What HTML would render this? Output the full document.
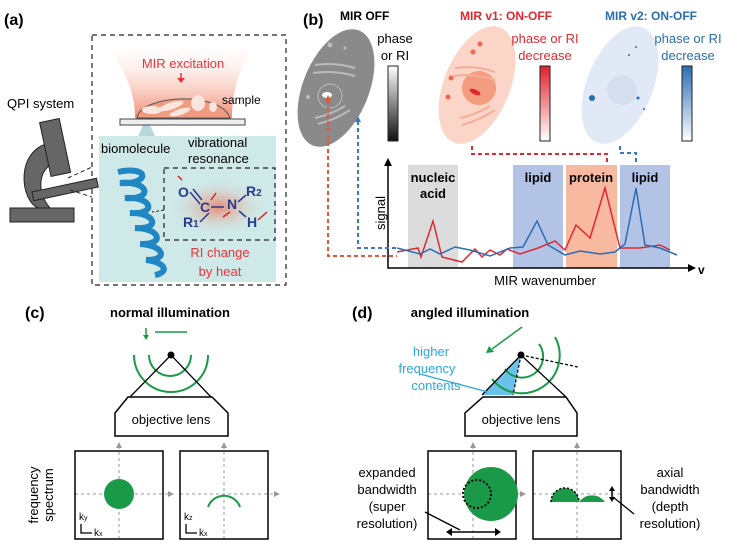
<!DOCTYPE html>
<html><head><meta charset="utf-8"><style>
html,body{margin:0;padding:0;background:#fff}
svg{display:block;font-family:"Liberation Sans",Arial,sans-serif}
</style></head><body>
<svg width="730" height="547" viewBox="0 0 730 547">
<defs>
<linearGradient id="funnel" x1="0" y1="0" x2="0" y2="1"><stop offset="0" stop-color="#fff" stop-opacity="0"/><stop offset="1" stop-color="#f08a70"/></linearGradient>
<radialGradient id="glow"><stop offset="0" stop-color="#e98a70"/><stop offset="1" stop-color="#cfe8e8" stop-opacity="0"/></radialGradient>
<linearGradient id="gbar" x1="0" y1="0" x2="0" y2="1"><stop offset="0" stop-color="#fff"/><stop offset="1" stop-color="#111"/></linearGradient>
<linearGradient id="rbar" x1="0" y1="0" x2="0" y2="1"><stop offset="0" stop-color="#e2202c"/><stop offset="1" stop-color="#fff"/></linearGradient>
<linearGradient id="bbar" x1="0" y1="0" x2="0" y2="1"><stop offset="0" stop-color="#2a6db5"/><stop offset="1" stop-color="#fff"/></linearGradient>
</defs>
<!-- (a) -->
<text x="4" y="25" font-size="16" font-weight="bold">(a)</text>
<path d="M100,40 C130,70 135,100 135,118 L232,118 C232,100 235,70 258,40 Z" fill="url(#funnel)"/>
<rect x="99" y="136" width="177" height="146" fill="#cfe8e8"/>
<polygon points="143,125 150,125 155,136 138,136" fill="#b7d9dc"/>
<rect x="92" y="35" width="194" height="250" fill="none" stroke="#222" stroke-dasharray="5,4" stroke-width="1.2"/>
<text x="183" y="68" font-size="13" fill="#e8343c" text-anchor="middle">MIR excitation</text>
<path d="M181,73 V80" stroke="#e8343c" stroke-width="1.5"/><path d="M177,78 L181,83 L185,78Z" fill="#e8343c"/>
<path d="M137,118 C140,95 220,90 230,118 Z" fill="#f19b80" stroke="#555"/>
<ellipse cx="152" cy="110" rx="10" ry="4" fill="#fbe5dc"/>
<ellipse cx="171" cy="106" rx="13" ry="3.5" fill="#fbe5dc" transform="rotate(-18 171 106)"/>
<ellipse cx="180" cy="112" rx="11" ry="3" fill="#fbe5dc" transform="rotate(-18 180 112)"/>
<ellipse cx="198" cy="103" rx="7" ry="8" fill="#fbe5dc"/>
<ellipse cx="213" cy="107" rx="4" ry="5" fill="#fbe5dc"/>
<rect x="120" y="119" width="125" height="6" fill="#eee" stroke="#444"/>
<text x="222" y="104" font-size="12">sample</text>
<text x="7" y="108" font-size="13">QPI system</text>
<rect x="10" y="208" width="64" height="14" fill="#666" stroke="#222"/>
<path d="M50,143 C15,150 20,200 38,208 L50,208 C36,192 38,168 56,162 Z" fill="#666" stroke="#222"/>
<rect x="45" y="120" width="20" height="55" fill="#666" stroke="#222" transform="rotate(-12 55 147)"/>
<rect x="32" y="185" width="66" height="9" fill="#666" stroke="#222" transform="rotate(-12 65 189)"/>
<path d="M68,178 L92,167 M70,190 L92,197" stroke="#222" stroke-dasharray="4,3"/>
<text x="101" y="153" font-size="13">biomolecule</text>
<text x="188" y="147" font-size="13">vibrational</text>
<text x="188" y="163" font-size="13">resonance</text>
<g fill="none" stroke="#2187c4" stroke-width="6">
<path d="M118,172 C150,165 150,185 120,183 C148,180 155,200 125,198 C152,196 158,215 130,213 C155,212 162,230 135,228 C160,228 166,245 140,244 C163,245 170,260 146,260 C165,262 170,272 155,275"/>
</g>
<ellipse cx="218" cy="207" rx="48" ry="28" fill="url(#glow)"/>
<rect x="164" y="168" width="111" height="72" fill="none" stroke="#222" stroke-dasharray="5,4" stroke-width="1.2"/>
<path d="M164,210 L152,212" stroke="#222" stroke-dasharray="3,2"/>
<g font-size="14" font-weight="bold" fill="#283c8c">
<text x="178" y="197">O</text><text x="200" y="212">C</text><text x="227" y="209">N</text>
<text x="246" y="196">R<tspan font-size="10">2</tspan></text><text x="183" y="227">R<tspan font-size="10">1</tspan></text><text x="247" y="227">H</text>
</g>
<path d="M190,192 L200,204 M193,189 L202,200 M211,207 L224,207 M209,213 L200,222 M238,202 L246,195 M239,211 L246,217" stroke="#283c8c" stroke-width="1.5"/>
<path d="M182,180 L178,176 M211,200 L216,193 M230,212 L223,217 M258,220 L267,212" stroke="#e02020" stroke-width="1.5"/>
<text x="220" y="257" font-size="13" fill="#e8343c" text-anchor="middle">RI change</text>
<text x="220" y="276" font-size="13" fill="#e8343c" text-anchor="middle">by heat</text>
<!-- (b) -->
<text x="303" y="25" font-size="16" font-weight="bold">(b)</text>
<text x="340" y="20" font-size="12" font-weight="bold">MIR OFF</text>
<text x="460" y="20" font-size="12" font-weight="bold" fill="#e02830">MIR v1: ON-OFF</text>
<text x="605" y="20" font-size="12" font-weight="bold" fill="#2a6db5">MIR v2: ON-OFF</text>
<ellipse cx="336" cy="88" rx="33" ry="62" transform="rotate(22 336 88)" fill="#8a8a8a"/>
<g stroke="#bbb" stroke-width="2" fill="none"><path d="M315,65 Q335,62 355,68 M313,73 Q335,70 355,76 M318,124 Q335,120 350,110 M315,118 Q330,115 345,106"/><circle cx="330" cy="96" r="12" stroke-width="1"/></g>
<ellipse cx="327" cy="95" rx="5" ry="3" fill="#fff"/>
<circle cx="330" cy="45" r="2.5" fill="#bbb"/><circle cx="308" cy="97" r="2" fill="#bbb"/><circle cx="345" cy="48" r="1.5" fill="#bbb"/>
<text x="395" y="43" font-size="13" text-anchor="middle">phase</text><text x="395" y="60" font-size="13" text-anchor="middle">or RI</text>
<rect x="388" y="66" width="10" height="75" fill="url(#gbar)" stroke="#222"/>
<ellipse cx="477" cy="85" rx="33" ry="62" transform="rotate(22 477 85)" fill="#fbd5c8"/>
<circle cx="479" cy="88" r="17" fill="#f49c80"/><ellipse cx="475" cy="92" rx="6" ry="2.5" fill="#e02830" transform="rotate(25 475 92)"/>
<g stroke="#f5ad98" stroke-width="2" fill="none"><path d="M455,68 Q475,65 495,72 M453,76 Q475,73 495,80 M462,125 Q480,120 495,110 M460,118 Q475,115 490,106"/></g>
<circle cx="480" cy="44" r="2.5" fill="#ec6a55"/><circle cx="473" cy="52" r="2.5" fill="#ec6a55"/><circle cx="451" cy="78" r="2.5" fill="#ec6a55"/><circle cx="448" cy="97" r="2.5" fill="#ec6a55"/>
<text x="545" y="43" font-size="13" fill="#e02830" text-anchor="middle">phase or RI</text><text x="545" y="60" font-size="13" fill="#e02830" text-anchor="middle">decrease</text>
<rect x="540" y="66" width="10" height="75" fill="url(#rbar)" stroke="#222"/>
<ellipse cx="620" cy="85" rx="33" ry="62" transform="rotate(22 620 85)" fill="#e2e9f6"/>
<circle cx="622" cy="90" r="15" fill="#d5deef"/>
<circle cx="592" cy="98" r="3" fill="#2a6db5"/><circle cx="638" cy="98" r="1.5" fill="#2a6db5"/><circle cx="629" cy="55" r="1" fill="#2a6db5"/><circle cx="636" cy="47" r="1" fill="#2a6db5"/><circle cx="644" cy="109" r="1" fill="#2a6db5"/>
<text x="688" y="43" font-size="13" fill="#2a6db5" text-anchor="middle">phase or RI</text><text x="688" y="60" font-size="13" fill="#2a6db5" text-anchor="middle">decrease</text>
<rect x="682" y="66" width="10" height="75" fill="url(#bbar)" stroke="#222"/>
<rect x="408" y="165" width="50" height="103" fill="#dcdcdc"/>
<rect x="513" y="165" width="50" height="103" fill="#b3c3e6"/>
<rect x="566" y="165" width="51" height="103" fill="#f7b9a0"/>
<rect x="620" y="165" width="50" height="103" fill="#b3c3e6"/>
<g font-size="13" font-weight="bold" text-anchor="middle"><text x="433" y="182">nucleic</text><text x="433" y="198">acid</text><text x="538" y="182">lipid</text><text x="591" y="182">protein</text><text x="645" y="182">lipid</text></g>
<polyline fill="none" stroke="#e02830" stroke-width="1.5" points="397,252 418,248 421,257 433,221 442,257 462,262 475,249 482,257 490,250 500,255 507,249 520,254 538,248 555,241 565,250 576,225 590,238 605,188 620,248 640,248 660,245 670,250"/>
<polyline fill="none" stroke="#2a6db5" stroke-width="1.5" points="397,248 420,254 430,249 440,254 455,247 470,250 490,256 510,248 523,247 537,221 548,245 565,255 580,251 600,254 615,252 625,244 636,188 645,245 660,248 677,255"/>
<path d="M388,162 V268 H692" fill="none" stroke="#000" stroke-width="1.5"/>
<path d="M384,166 L388,158 L392,166Z M688,264 L696,268 L688,272Z"/>
<text x="698" y="274" font-size="12" font-weight="bold">v</text>
<text x="0" y="0" font-size="13" transform="translate(385,230) rotate(-90)">signal</text>
<text x="545" y="285" font-size="13" text-anchor="middle">MIR wavenumber</text>
<g fill="none" stroke-width="2" stroke-dasharray="4,3">
<path d="M328,100 V256 H397" stroke="#e5553a"/>
<path d="M358,121 V248 H397" stroke="#3a78c0"/>
<path d="M472,146 V154 H607 V165" stroke="#e02830"/>
<path d="M620,146 V153 H636 V165" stroke="#3a78c0"/>
</g>
<path d="M325,101 L328,95 L331,101Z" fill="#e5553a"/><path d="M355,122 L358,116 L361,122Z" fill="#3a78c0"/>
<!-- (c) -->
<text x="25" y="318" font-size="16" font-weight="bold">(c)</text>
<text x="170" y="317" font-size="13" font-weight="bold" text-anchor="middle">normal illumination</text>
<path d="M146,328 V336" stroke="#1a9a48" stroke-width="1.5"/><path d="M143,335 L146,340 L149,335Z" fill="#1a9a48"/>
<path d="M155,332 H187" stroke="#1a9a48" stroke-width="1.5"/>
<g fill="none" stroke="#1a9a48" stroke-width="2"><path d="M149,355 A21,21 0 0 0 191,355"/><path d="M134,355 A37,37 0 0 0 208,355"/></g>
<path d="M130,397 L171,355 L211,397" fill="none" stroke="#000" stroke-width="1.3"/>
<circle cx="171" cy="355" r="3.5"/>
<polygon points="128,397 212,397 228,413 228,436 115,436 115,413" fill="#fff" stroke="#000" stroke-width="1.5"/>
<text x="171" y="424" font-size="13" text-anchor="middle">objective lens</text>
<g fill="none" stroke="#999" stroke-dasharray="3,3"><path d="M119,539 V446 M75,494 H168 M224,539 V446 M180,494 H274"/></g>
<path d="M116,448 L119,442 L122,448Z M221,448 L224,442 L227,448Z M168,491 L174,494 L168,497Z M274,491 L280,494 L274,497Z" fill="#999"/>
<rect x="75" y="451" width="88" height="88" fill="none" stroke="#000" stroke-width="1.5"/>
<rect x="180" y="451" width="88" height="88" fill="none" stroke="#000" stroke-width="1.5"/>
<circle cx="119" cy="494" r="15" fill="#1a9a48"/>
<path d="M208,507 A17,17 0 0 1 240,507" fill="none" stroke="#1a9a48" stroke-width="2"/>
<text x="0" y="0" font-size="13" text-anchor="middle" transform="translate(38,495) rotate(-90)">frequency</text>
<text x="0" y="0" font-size="13" text-anchor="middle" transform="translate(53,495) rotate(-90)">spectrum</text>
<g font-size="10"><text x="79" y="520">k<tspan font-size="7">y</tspan></text><text x="94" y="536">k<tspan font-size="7">x</tspan></text>
<text x="184" y="520">k<tspan font-size="7">z</tspan></text><text x="199" y="536">k<tspan font-size="7">x</tspan></text></g>
<path d="M81,524 V533 H92 M186,524 V533 H197" fill="none" stroke="#000" stroke-width="1.3"/>
<!-- (d) -->
<text x="352" y="318" font-size="16" font-weight="bold">(d)</text>
<text x="470" y="317" font-size="13" font-weight="bold" text-anchor="middle">angled illumination</text>
<path d="M522,327 L492,349" stroke="#1a9a48" stroke-width="1.5"/><path d="M489,346 L486,353 L494,352Z" fill="#1a9a48"/>
<polygon points="482,395 521,355 513,395" fill="#69c1ec"/>
<g fill="none" stroke="#1a9a48" stroke-width="2"><path d="M539,344 A21,21 0 0 1 505,369"/><path d="M555,337 A38,38 0 0 1 492,379"/></g>
<path d="M521,355 L578,367 M521,355 L513,395" fill="none" stroke="#000" stroke-dasharray="3,2" stroke-width="1.3"/>
<path d="M482,395 L521,355 L566,397" fill="none" stroke="#000" stroke-width="1.3"/>
<circle cx="521" cy="355" r="3.5"/>
<path d="M420,374 L488,392" stroke="#29a8e0" stroke-width="1.3"/>
<g font-size="13" fill="#29a8e0" text-anchor="middle"><text x="431" y="356">higher</text><text x="427" y="373">frequency</text><text x="436" y="390">contents</text></g>
<polygon points="483,397 566,397 577,413 577,436 465,436 465,413" fill="#fff" stroke="#000" stroke-width="1.5"/>
<text x="521" y="424" font-size="13" text-anchor="middle">objective lens</text>
<g fill="none" stroke="#999" stroke-dasharray="3,3"><path d="M473,539 V446 M428,494 H520 M577,539 V446 M533,494 H622"/></g>
<path d="M470,448 L473,442 L476,448Z M574,448 L577,442 L580,448Z M520,491 L526,494 L520,497Z" fill="#999"/>
<rect x="428" y="451" width="88" height="88" fill="none" stroke="#000" stroke-width="1.5"/>
<rect x="533" y="451" width="88" height="88" fill="none" stroke="#000" stroke-width="1.5"/>
<circle cx="491" cy="494" r="27" fill="#1a9a48"/>
<circle cx="477" cy="494" r="14" fill="none" stroke="#000" stroke-width="2" stroke-dasharray="2,2"/>
<path d="M450,532 H497" stroke="#000" stroke-width="1.5"/><path d="M452,528 L446,532 L452,536Z M495,528 L501,532 L495,536Z"/>
<path d="M425,512 L460,530" stroke="#000" stroke-width="1.3"/>
<path d="M551,502 A14,14 0 0 1 579,502 Z" fill="#1a9a48"/>
<path d="M551,502 A14,14 0 0 1 579,502" fill="none" stroke="#000" stroke-width="1.5" stroke-dasharray="2,2"/>
<path d="M579,502 A16,16 0 0 1 605,502 Z" fill="#1a9a48"/>
<path d="M612,489 V499" stroke="#000" stroke-width="1.5"/><path d="M609,491 L612,486 L615,491Z M609,497 L612,502 L615,497Z"/>
<path d="M613,497 L634,514" stroke="#000" stroke-width="1.3"/>
<g font-size="13" text-anchor="middle"><text x="387" y="477">expanded</text><text x="387" y="494">bandwidth</text><text x="387" y="511">(super</text><text x="387" y="528">resolution)</text>
<text x="670" y="477">axial</text><text x="670" y="494">bandwidth</text><text x="670" y="511">(depth</text><text x="670" y="528">resolution)</text></g>
</svg>
</body></html>
